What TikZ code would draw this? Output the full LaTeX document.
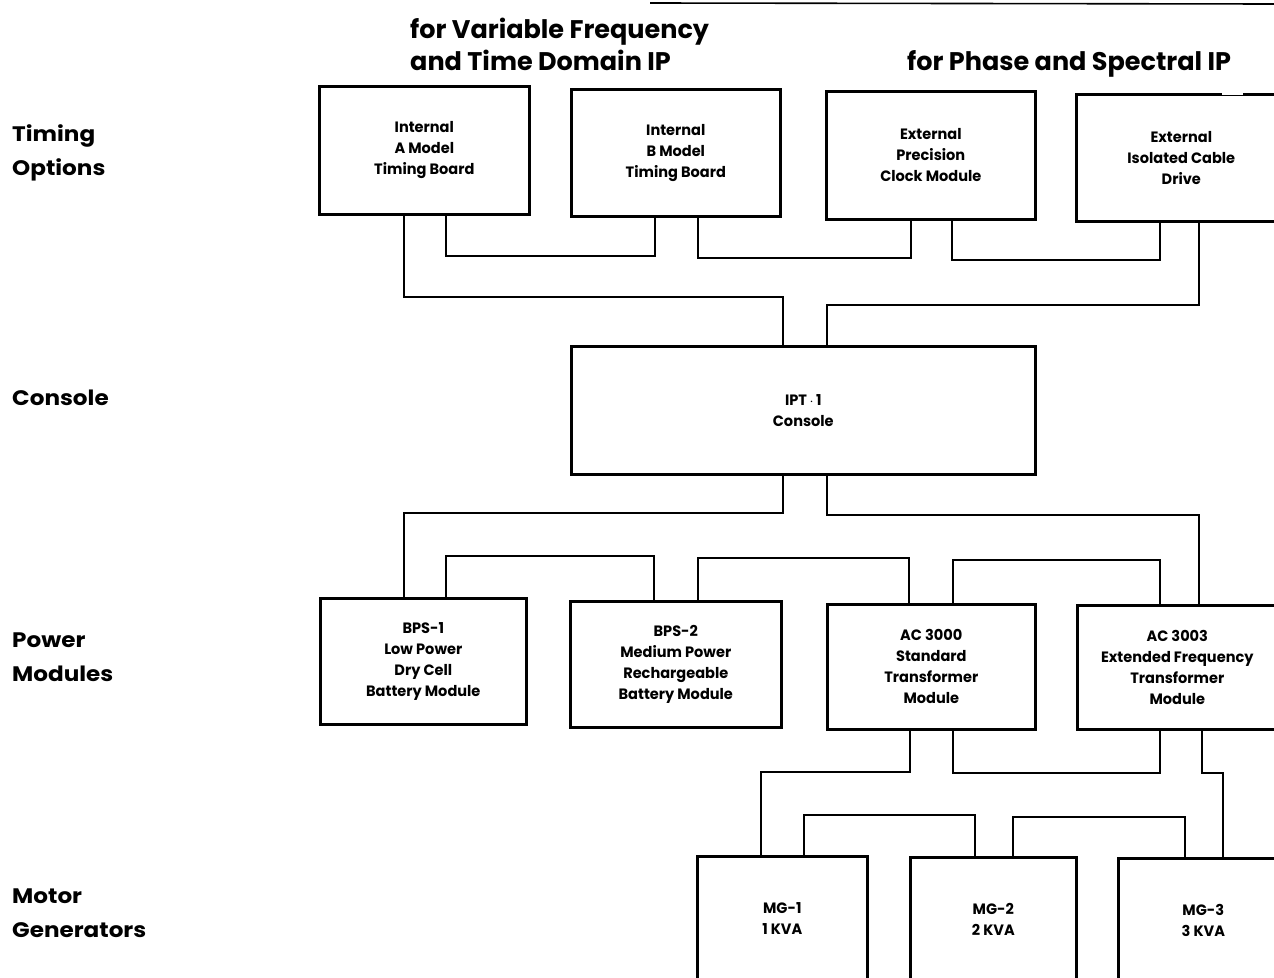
\documentclass[tikz,border=0pt]{standalone}
\usepackage{fontspec}
\newfontfamily\rowfont[FakeStretch=1.1]{Poppins}
\newfontfamily\boxfont[FakeStretch=0.97]{Poppins}
\newfontfamily\headfont{Poppins}
\begin{document}
\begin{tikzpicture}[x=1pt,y=-1pt,
  box/.style={draw=black,line width=2.6pt,fill=none,align=center,inner sep=0pt,anchor=north west,
    font=\boxfont\bfseries\fontsize{15}{21}\selectfont},
  wire/.style={draw=black,line width=2.6pt,line join=miter},
  rowlab/.style={anchor=west,align=left,inner sep=0pt,font=\rowfont\bfseries\fontsize{21}{34}\selectfont},
  headlab/.style={anchor=west,align=left,inner sep=0pt,font=\headfont\bfseries\fontsize{25.5}{32}\selectfont}]
\clip (0,0) rectangle (1274,977);
\fill[white] (0,0) rectangle (1274,977);
% top border fragment
\draw[line width=1.6pt] (650,3) -- (1274,4);
% row labels
\node[rowlab] (lt) at (12,153) {Timing\\Options};
\node[rowlab] (lc) at (12,398) {Console};
\node[rowlab] (lp) at (12,657) {Power\\Modules};
\node[rowlab] (lm) at (12,913) {Motor\\Generators};
% headers
\node[headlab] (h1) at (410,44) {for Variable Frequency\\and Time Domain IP};
\node[headlab] (h2) at (907,64) {for Phase and Spectral IP};
% timing boxes
\node[box,minimum width=210,minimum height=128] (ta) at (318,85) {Internal\\A Model\\Timing Board};
\node[box,minimum width=209,minimum height=127] (tb) at (570,88) {Internal\\B Model\\Timing Board};
\node[box,minimum width=209,minimum height=128] (tc) at (825,90) {External\\Precision\\Clock Module};
\node[box,minimum width=210,minimum height=127] (td) at (1075,93) {External\\Isolated Cable\\Drive};
\draw[white,line width=4pt] (1222,93) -- (1243,93);
% console
\node[box,minimum width=464,minimum height=128] (con) at (570,345) {IPT\,$\cdot$\,1\\Console};
% power modules
\node[box,minimum width=206,minimum height=126] (p1) at (319,597) {BPS-1\\Low Power\\Dry Cell\\Battery Module};
\node[box,minimum width=211,minimum height=126] (p2) at (569,600) {BPS-2\\Medium Power\\Rechargeable\\Battery Module};
\node[box,minimum width=208,minimum height=125] (p3) at (826,603) {AC 3000\\Standard\\Transformer\\Module};
\node[box,minimum width=200,minimum height=124] (p4) at (1076,604) {AC 3003\\Extended Frequency\\Transformer\\Module};
% motor generators
\node[box,minimum width=170,minimum height=125] (m1) at (696,855) {MG-1\\1 KVA};
\node[box,minimum width=166,minimum height=125] (m2) at (909,856) {MG-2\\2 KVA};
\node[box,minimum width=170,minimum height=125] (m3) at (1117,857) {MG-3\\3 KVA};
% connectors timing
\draw[wire] (ta.south -| 446,0) -- (446,256) -| (tb.south -| 655,0);
\draw[wire] (tb.south -| 698,0) -- (698,258) -| (tc.south -| 911,0);
\draw[wire] (tc.south -| 952,0) -- (952,260) -| (td.south -| 1160,0);
\draw[wire] (ta.south -| 404,0) -- (404,297) -| (con.north -| 783,0);
\draw[wire] (td.south -| 1199,0) -- (1199,305) -| (con.north -| 827,0);
% connectors power
\draw[wire] (con.south -| 783,0) -- (783,513) -| (p1.north -| 404,0);
\draw[wire] (con.south -| 827,0) -- (827,515) -| (p4.north -| 1199,0);
\draw[wire] (p1.north -| 446,0) -- (446,556) -| (p2.north -| 654,0);
\draw[wire] (p2.north -| 698,0) -- (698,558) -| (p3.north -| 909,0);
\draw[wire] (p3.north -| 953,0) -- (953,560) -| (p4.north -| 1160,0);
% connectors motor generators
\draw[wire] (p3.south -| 910,0) -- (910,772) -| (m1.north -| 761,0);
\draw[wire] (p3.south -| 953,0) -- (953,773) -| (p4.south -| 1160,0);
\draw[wire] (p4.south -| 1202,0) -- (1202,773) -| (m3.north -| 1223,0);
\draw[wire] (m1.north -| 804,0) -- (804,815) -| (m2.north -| 975,0);
\draw[wire] (m2.north -| 1013,0) -- (1013,817) -| (m3.north -| 1185,0);
\end{tikzpicture}
\end{document}
